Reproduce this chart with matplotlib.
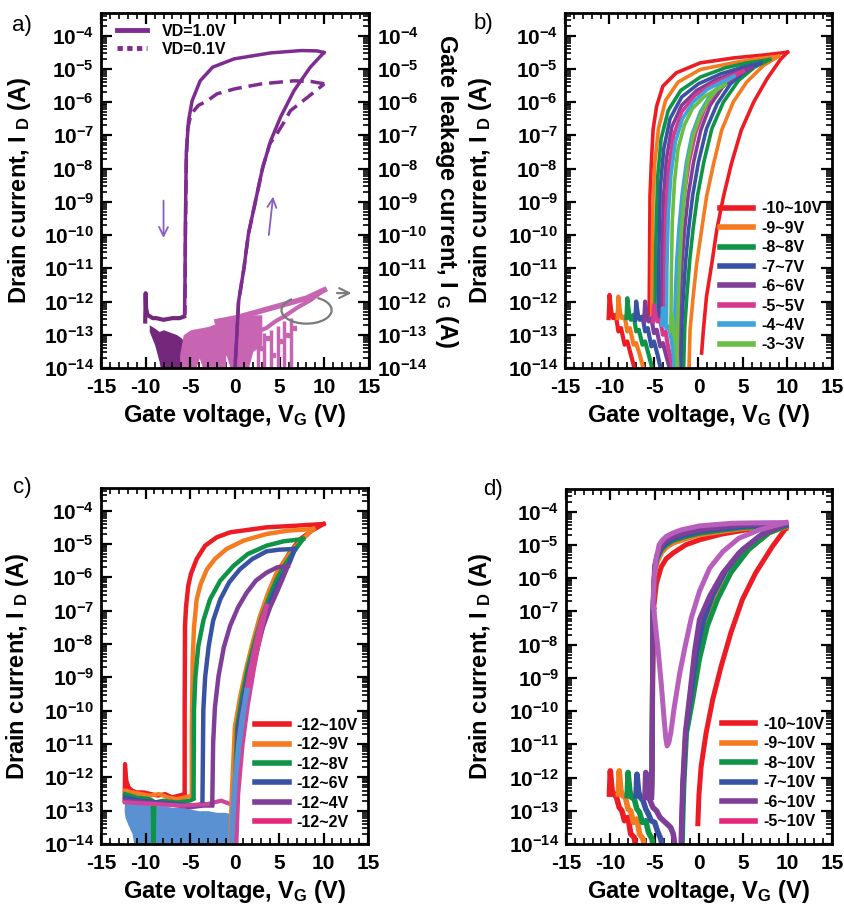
import numpy as np
import matplotlib
matplotlib.use("Agg")
import matplotlib.pyplot as plt
from matplotlib.ticker import FixedLocator, FixedFormatter, LogLocator, NullFormatter, MultipleLocator
from matplotlib.lines import Line2D
from matplotlib.patches import Arc

plt.rcParams['font.family'] = ['Liberation Sans', 'DejaVu Sans']
plt.rcParams['font.weight'] = 'bold'
plt.rcParams['axes.labelweight'] = 'bold'
plt.rcParams['mathtext.fontset'] = 'custom'
for k in ('rm', 'it', 'bf', 'sf'):
    plt.rcParams['mathtext.' + k] = 'Liberation Sans:bold'

# ---- axis ticks ----
X_TICKS = [-15, -10, -5, 0, 5, 10, 15]
X_TICKLABELS = ['-15', '-10', '-5', '0', '5', '10', '15']
Y_EXP = [-14, -13, -12, -11, -10, -9, -8, -7, -6, -5, -4]

# ---- panel a : log10(I) vs V ----
A_SOLID_FWD_V = [0.0, 0.05, 0.4, 1.0, 1.5, 2.3, 3.1, 4.0, 5.1, 6.6, 8.4, 9.95]
A_SOLID_FWD_L = [-14.3, -13.8, -12.0, -11.0, -9.97, -8.97, -7.97, -7.16, -6.45, -5.66, -4.96, -4.51]
A_SOLID_REV_V = [9.95, 9.2, 7.4, 4.0, -0.1, -2.5, -3.9, -4.8, -5.2, -5.45, -5.55, -5.6, -5.65]
A_SOLID_REV_L = [-4.51, -4.46, -4.45, -4.52, -4.7, -4.95, -5.36, -5.96, -6.56, -7.5, -9.5, -11.5, -12.4]
A_DASH_FWD_V = [0.0, 0.05, 0.4, 1.0, 1.5, 2.3, 3.1, 3.9, 4.7, 5.5, 6.2, 7.2, 8.1, 10.0]
A_DASH_FWD_L = [-14.3, -13.8, -12.0, -11.0, -9.97, -8.97, -7.97, -7.25, -6.95, -6.6, -6.26, -6.05, -5.86, -5.45]
A_DASH_REV_V = [10.0, 8.5, 6.6, 3.0, 0.0, -2.0, -3.1, -4.1, -4.6, -5.0, -5.3, -5.45, -5.55, -5.6]
A_DASH_REV_L = [-5.45, -5.38, -5.36, -5.45, -5.6, -5.75, -5.96, -6.1, -6.26, -6.45, -6.8, -7.8, -10.0, -12.4]
A_FLOOR_V = [-10.05, -10.0, -9.95, -9.8, -9.5, -9.2, -8.8, -8.0, -7.0, -6.2, -5.7]
A_FLOOR_L = [-12.6, -11.75, -12.2, -12.4, -12.45, -12.5, -12.5, -12.55, -12.5, -12.5, -12.45]
A_DNOISE_V = [-9.6, -9.0, -8.5, -8.0, -7.5, -7.0, -6.5, -6.0, -5.7]
A_DNOISE_HI = [-12.7, -12.8, -12.9, -12.85, -12.9, -12.95, -13.0, -13.1, -13.2]
A_DNOISE_LO = [-12.9, -13.3, -13.8, -14.5, -14.5, -14.5, -14.2, -13.9, -13.6]
A_GATE_V = [-6.2, -5.8, -5.0, -4.0, -3.0, -2.0, -1.0, 0.0, 1.0, 2.0, 3.0]
A_GATE_HI = [-13.6, -13.0, -12.85, -12.8, -12.75, -12.65, -12.55, -12.5, -12.45, -12.4, -12.4]
A_GATE_LO = [-14.5, -14.5, -14.5, -13.7, -14.5, -14.5, -13.6, -14.5, -14.5, -13.5, -13.3]
A_GATE_UP_V = [-2.0, 0.0, 2.0, 4.0, 6.0, 8.0, 10.0]
A_GATE_UP_L = [-12.6, -12.5, -12.35, -12.2, -12.05, -11.9, -11.65]
A_GATE_DN_V = [10.0, 8.5, 7.0, 5.5, 4.5, 3.5, 2.5]
A_GATE_DN_L = [-11.65, -11.95, -12.18, -12.45, -12.6, -12.8, -12.9]
A_GATE_SPIKE_V = [-3.5, -1.2, 2.6, 3.3, 4.0, 4.8, 5.5, 6.3]
A_GATE_SPIKE_TOP = [-13.0, -12.9, -12.9, -12.95, -12.85, -12.75, -12.6, -12.5]
A_GATE_DOT_V = [3.0, 3.6, 4.3, 5.0, 5.8, 6.6]
A_GATE_DOT_L = [-13.4, -13.1, -13.6, -13.2, -13.0, -12.8]
A_LABELS = ['VD=1.0V', 'VD=0.1V']

# ---- panel b ----
B_LABELS = ['-10~10V', '-9~9V', '-8~8V', '-7~7V', '-6~6V', '-5~5V', '-4~4V', '-3~3V']
B_FWD_V = [
    [0.35, 0.55, 0.9, 1.5, 2.05, 2.8, 3.7, 4.8, 6.2, 7.7, 9.2, 10.0],
    [-1.1, -0.95, -0.6, -0.2, 0.35, 0.9, 1.7, 2.6, 3.9, 5.4, 7.3, 9.0],
    [-1.7, -1.55, -1.3, -1.0, -0.6, -0.1, 0.6, 1.5, 2.8, 4.5, 6.3, 8.0],
    [-2.0, -1.9, -1.7, -1.45, -1.1, -0.65, 0.0, 0.9, 2.1, 3.6, 5.3, 7.0],
    [-2.3, -2.2, -2.05, -1.85, -1.55, -1.15, -0.55, 0.25, 1.3, 2.7, 4.3, 6.0],
    [-2.6, -2.5, -2.4, -2.2, -1.95, -1.6, -1.05, -0.3, 0.7, 2.0, 3.5, 5.0],
    [-2.8, -2.7, -2.6, -2.45, -2.2, -1.85, -1.35, -0.7, 0.2, 1.3, 2.6, 4.0],
    [-2.45, -2.35, -2.25, -2.1, -1.9, -1.6, -1.2, -0.6, 0.2, 1.1, 2.0, 3.0],
]
B_FWD_L = [
    [-13.55, -12.85, -11.85, -10.85, -9.85, -8.85, -7.85, -6.85, -6.0, -5.3, -4.72, -4.5],
    [-14.3, -12.85, -11.85, -10.85, -9.85, -8.85, -7.85, -6.85, -6.0, -5.4, -4.9, -4.62],
    [-14.3, -12.8, -11.8, -10.8, -9.8, -8.8, -7.8, -6.8, -6.0, -5.35, -4.95, -4.72],
    [-14.3, -12.8, -11.8, -10.8, -9.8, -8.8, -7.8, -6.8, -6.05, -5.45, -5.05, -4.82],
    [-14.3, -12.8, -11.8, -10.8, -9.8, -8.8, -7.8, -6.85, -6.1, -5.55, -5.2, -4.97],
    [-14.3, -12.8, -11.8, -10.8, -9.8, -8.8, -7.8, -6.9, -6.2, -5.65, -5.3, -5.07],
    [-14.3, -12.8, -11.8, -10.8, -9.8, -8.8, -7.8, -6.95, -6.3, -5.8, -5.45, -5.22],
    [-14.3, -12.8, -11.8, -10.8, -9.8, -8.8, -7.8, -7.0, -6.4, -5.95, -5.65, -5.47],
]
B_REV_V = [
    [10.0, 7.5, 4.0, 0.2, -2.5, -4.0, -4.7, -5.1, -5.3, -5.45, -5.5, -5.55],
    [9.0, 6.5, 3.9, 0.2, -2.3, -3.7, -4.5, -4.9, -5.1, -5.2, -5.25],
    [8.0, 5.5, 3.0, 0.2, -2.0, -3.4, -4.2, -4.6, -4.8, -4.9],
    [7.0, 5.0, 2.5, 0.0, -1.9, -3.2, -3.9, -4.3, -4.45, -4.5],
    [6.0, 4.2, 2.0, -0.2, -1.9, -3.0, -3.6, -3.95, -4.1, -4.15],
    [5.0, 3.5, 1.6, -0.4, -1.9, -2.8, -3.35, -3.65, -3.8, -3.85],
    [4.0, 2.7, 1.0, -0.6, -1.8, -2.6, -3.1, -3.4, -3.55, -3.6],
    [3.0, 2.0, 0.6, -0.7, -1.6, -2.3, -2.7, -2.95, -3.05, -3.1],
]
B_REV_L = [
    [-4.5, -4.58, -4.67, -4.82, -5.12, -5.52, -6.12, -6.82, -7.83, -8.83, -10.8, -12.4],
    [-4.62, -4.7, -4.82, -5.02, -5.4, -5.95, -6.8, -7.8, -8.8, -10.8, -12.4],
    [-4.72, -4.82, -4.97, -5.25, -5.65, -6.25, -7.1, -8.3, -10.3, -12.4],
    [-4.82, -4.95, -5.15, -5.45, -5.85, -6.5, -7.4, -8.6, -10.5, -12.5],
    [-4.97, -5.1, -5.32, -5.65, -6.1, -6.75, -7.7, -8.9, -10.7, -12.6],
    [-5.07, -5.22, -5.45, -5.8, -6.3, -7.0, -8.0, -9.2, -10.9, -12.7],
    [-5.22, -5.38, -5.62, -6.0, -6.5, -7.2, -8.2, -9.4, -11.0, -12.8],
    [-5.47, -5.62, -5.85, -6.2, -6.7, -7.4, -8.4, -9.6, -11.2, -12.9],
]
B_NOISE_V = [
    [-10.1, -10.0, -9.8, -9.6, -9.3, -9.0, -8.7, -8.3, -8.0, -7.6, -7.3, -7.0],
    [-9.1, -9.0, -8.8, -8.6, -8.3, -8.0, -7.7, -7.3, -7.0, -6.6, -6.3, -6.0],
    [-8.1, -8.0, -7.8, -7.6, -7.3, -7.0, -6.7, -6.3, -6.0, -5.6, -5.3, -5.0],
    [-7.1, -7.0, -6.8, -6.6, -6.3, -6.0, -5.7, -5.3, -5.0, -4.6, -4.3, -4.0],
    [-6.1, -6.0, -5.8, -5.6, -5.3, -5.0, -4.7, -4.3, -4.0, -3.6, -3.3, -3.0],
    [-5.1, -5.0, -4.8, -4.6, -4.3, -4.0, -3.7, -3.4, -3.1, -2.8],
    [-4.1, -4.0, -3.8, -3.6, -3.3, -3.0, -2.8, -2.6],
    [-3.1, -3.0, -2.85, -2.7, -2.5, -2.3],
]
B_NOISE_L = [
    [-12.5, -11.8, -12.3, -12.5, -12.4, -12.9, -12.8, -13.3, -13.2, -13.6, -13.9, -14.3],
    [-12.5, -11.85, -12.35, -12.5, -12.45, -12.9, -12.8, -13.3, -13.25, -13.6, -13.9, -14.3],
    [-12.5, -11.9, -12.35, -12.55, -12.4, -12.9, -12.85, -13.3, -13.2, -13.6, -13.9, -14.3],
    [-12.55, -12.0, -12.4, -12.55, -12.45, -12.9, -12.8, -13.35, -13.2, -13.6, -13.95, -14.3],
    [-12.6, -12.0, -12.45, -12.6, -12.5, -12.95, -12.85, -13.35, -13.25, -13.65, -13.95, -14.3],
    [-12.6, -12.1, -12.45, -12.6, -12.55, -13.0, -12.9, -13.4, -13.7, -14.3],
    [-12.7, -12.2, -12.6, -12.8, -12.75, -13.2, -13.6, -14.3],
    [-12.8, -12.4, -12.7, -13.0, -13.3, -14.3],
]

# ---- panel c ----
C_LABELS = ['-12~10V', '-12~9V', '-12~8V', '-12~6V', '-12~4V', '-12~2V']
C_FWD_V = [
    [-0.15, 0.1, 0.6, 1.3, 2.1, 2.9, 3.6, 4.3, 5.1, 6.2, 7.4, 8.7, 10.0],
    [-0.5, -0.3, 0.05, 0.7, 1.37, 2.1, 2.87, 3.8, 4.74, 5.6, 6.6, 7.7, 8.85],
    [-0.15, 0.0, 0.3, 0.9, 1.55, 2.3, 3.1, 3.9, 4.74, 5.6, 6.6, 7.7],
    [-0.15, 0.05, 0.43, 1.1, 1.74, 2.5, 3.24, 4.0, 4.74, 5.5, 6.2, 6.8],
    [0.0, 0.2, 0.5, 1.1, 1.74, 2.5, 3.24, 4.0, 4.74, 5.4, 6.0],
    [0.15, 0.4, 0.9, 1.5, 2.2, 2.9, 3.6],
]
C_FWD_L = [
    [-14.3, -12.2, -10.48, -9.5, -8.67, -7.8, -6.96, -6.3, -5.76, -5.25, -4.85, -4.6, -4.4],
    [-14.3, -12.5, -10.48, -9.5, -8.67, -7.9, -7.16, -6.45, -5.86, -5.5, -5.15, -4.85, -4.55],
    [-14.3, -12.6, -10.48, -9.5, -8.67, -7.9, -7.16, -6.6, -6.06, -5.65, -5.25, -4.85],
    [-14.3, -12.6, -10.48, -9.5, -8.67, -7.95, -7.26, -6.75, -6.26, -5.9, -5.55, -5.15],
    [-14.3, -12.6, -10.68, -9.7, -8.87, -8.1, -7.46, -6.9, -6.46, -6.05, -5.66],
    [-14.3, -12.5, -11.0, -9.8, -8.7, -7.7, -6.86],
]
C_REV_V = [
    [10.0, 7.0, 3.6, -0.5, -2.0, -3.3, -4.25, -4.9, -5.2, -5.45, -5.56, -5.6, -5.6],
    [8.85, 6.0, 3.6, 1.0, -0.9, -2.2, -3.1, -3.8, -4.25, -4.55, -4.7, -4.8, -4.8],
    [7.7, 5.5, 3.6, 1.5, -0.13, -1.6, -2.75, -3.5, -4.07, -4.4, -4.55, -4.6],
    [6.8, 5.0, 3.6, 2.0, 0.6, -0.6, -1.6, -2.4, -2.9, -3.3, -3.5, -3.6],
    [6.0, 4.8, 3.6, 2.4, 1.37, 0.4, -0.5, -1.2, -1.8, -2.2, -2.4, -2.5],
    [3.6, 2.9, 2.2, 1.6, 1.0, 0.5, 0.2, 0.1],
]
C_REV_L = [
    [-4.4, -4.45, -4.5, -4.65, -4.8, -5.05, -5.45, -5.9, -6.26, -6.9, -7.46, -10.0, -12.43],
    [-4.55, -4.6, -4.7, -4.9, -5.15, -5.45, -5.76, -6.2, -6.66, -7.5, -8.47, -10.5, -12.5],
    [-4.85, -4.92, -5.05, -5.3, -5.66, -6.1, -6.66, -7.3, -8.07, -9.0, -9.97, -12.6],
    [-5.15, -5.17, -5.22, -5.45, -5.76, -6.15, -6.66, -7.3, -8.07, -9.0, -9.97, -12.7],
    [-5.66, -5.7, -5.86, -6.1, -6.46, -6.9, -7.46, -8.1, -8.97, -9.9, -10.97, -12.8],
    [-6.86, -7.4, -8.2, -9.0, -10.0, -11.0, -12.0, -12.9],
]
C_FLOOR_V = [
    [-12.35, -12.3, -12.15, -11.9, -11.5, -11.0, -10.2, -9.4, -8.6, -7.8, -7.0, -6.3, -5.6],
    [-12.3, -11.5, -10.5, -9.5, -8.5, -7.5, -6.5, -5.5, -4.8],
    [-12.3, -11.0, -9.6, -9.2, -9.1, -9.0, -8.0, -6.5, -5.0, -4.6],
    [-12.3, -10.5, -8.5, -6.5, -4.5, -3.6],
    [-12.3, -10.0, -7.5, -5.0, -3.5, -2.5],
    [-12.3, -9.0, -6.0, -3.0, -1.5, -0.5],
]
C_FLOOR_L = [
    [-12.7, -11.6, -12.1, -12.3, -12.4, -12.45, -12.45, -12.5, -12.55, -12.5, -12.6, -12.55, -12.5],
    [-12.4, -12.45, -12.5, -12.55, -12.5, -12.6, -12.65, -12.6, -12.55],
    [-12.5, -12.6, -12.65, -12.7, -14.3, -12.75, -12.7, -12.75, -12.7, -12.65],
    [-12.6, -12.7, -12.75, -12.8, -12.85, -12.8],
    [-12.7, -12.75, -12.8, -12.9, -12.85, -12.85],
    [-12.75, -12.8, -12.85, -12.8, -12.7, -12.8],
]
C_BAND_V = [-12.4, -12.3, -12.0, -11.5, -11.0, -10.0, -9.0, -8.0, -7.0, -6.0, -5.0, -4.0, -3.0, -2.0, -1.0, -0.3, 0.0]
C_BAND_HI = [-13.0, -12.4, -12.6, -12.7, -12.75, -12.8, -12.85, -12.85, -12.9, -12.9, -12.95, -13.0, -13.0, -13.05, -13.05, -13.1, -13.6]
C_BAND_LO = [-13.0, -13.2, -13.4, -13.7, -14.5, -14.5, -14.5, -14.5, -14.5, -14.5, -14.5, -14.5, -14.5, -14.5, -14.5, -14.5, -14.5]
C_LB_V = [-0.4, -0.2, 0.1, 0.5, 0.9, 1.4]
C_LB_L = [-14.3, -13.2, -12.0, -11.0, -10.2, -9.4]

# ---- panel d ----
D_LABELS = ['-10~10V', '-9~10V', '-8~10V', '-7~10V', '-6~10V', '-5~10V']
D_FWD_V = [
    [-0.13, 0.0, 0.24, 0.8, 1.55, 2.5, 3.6, 4.9, 6.4, 8.3, 9.8],
    [-2.0, -1.95, -1.8, -1.5, -1.06, -0.5, 0.24, 1.2, 2.3, 3.8, 5.6, 7.9, 9.8],
    [-1.9, -1.85, -1.7, -1.4, -0.7, 0.05, 0.95, 2.1, 3.6, 5.6, 7.9, 9.8],
    [-2.0, -1.95, -1.8, -1.5, -0.9, -0.3, 0.5, 1.6, 3.0, 4.9, 7.3, 9.8],
    [-2.05, -2.0, -1.85, -1.55, -1.0, -0.5, 0.05, 1.2, 2.7, 4.5, 6.8, 9.8],
    [-5.1, -5.0, -4.6, -4.25, -3.95, -3.75, -3.6, -3.4, -3.15, -2.8, -2.2, -1.6, -0.87, 0.05, 1.2, 2.7, 4.5, 6.8, 9.8],
]
D_FWD_L = [
    [-13.39, -12.5, -11.67, -10.66, -9.65, -8.65, -7.64, -6.64, -5.84, -5.04, -4.5],
    [-14.3, -13.6, -12.2, -10.66, -9.65, -8.65, -7.84, -7.14, -6.44, -5.74, -5.14, -4.64, -4.45],
    [-14.3, -13.6, -12.2, -10.66, -9.65, -8.45, -7.44, -6.64, -5.84, -5.14, -4.64, -4.43],
    [-14.3, -13.6, -12.2, -10.66, -9.5, -8.3, -7.3, -6.5, -5.8, -5.14, -4.64, -4.4],
    [-14.3, -13.6, -12.2, -10.66, -9.4, -8.2, -7.24, -6.54, -5.84, -5.24, -4.74, -4.36],
    [-6.9, -7.2, -8.2, -9.2, -10.2, -10.8, -11.05, -10.95, -10.6, -9.9, -8.9, -8.1, -7.2, -6.4, -5.7, -5.2, -4.8, -4.55, -4.33],
]
D_REV_V = [
    [9.8, 7.5, 5.3, 2.5, 0.05, -1.5, -2.94, -3.7, -4.25, -4.8, -5.1, -5.2, -5.3, -5.35],
    [9.8, 7.5, 5.3, 2.5, 0.05, -1.5, -2.94, -3.7, -4.25, -4.7, -5.0, -5.2, -5.3, -5.35],
    [9.8, 7.5, 5.3, 2.5, 0.05, -1.5, -2.94, -3.7, -4.25, -4.7, -5.0, -5.2, -5.3, -5.35],
    [9.8, 7.5, 5.3, 2.5, 0.05, -1.5, -2.94, -3.7, -4.25, -4.7, -5.0, -5.2, -5.3, -5.35],
    [9.8, 7.5, 5.3, 2.5, 0.05, -1.5, -2.94, -3.7, -4.25, -4.7, -5.0, -5.2, -5.3, -5.35],
    [9.8, 6.0, 3.8, 0.05, -2.0, -3.0, -3.7, -4.2, -4.5, -4.85, -5.1, -5.2, -5.1],
]
D_REV_L = [
    [-4.5, -4.52, -4.55, -4.68, -4.85, -5.0, -5.25, -5.42, -5.66, -6.16, -6.86, -8.67, -11.68, -12.5],
    [-4.45, -4.47, -4.5, -4.6, -4.7, -4.82, -4.95, -5.08, -5.25, -5.5, -5.85, -7.16, -11.68, -12.6],
    [-4.43, -4.45, -4.47, -4.56, -4.65, -4.75, -4.87, -5.0, -5.15, -5.4, -5.75, -7.0, -11.68, -12.6],
    [-4.4, -4.42, -4.44, -4.52, -4.6, -4.7, -4.82, -4.95, -5.1, -5.35, -5.7, -7.0, -11.7, -12.6],
    [-4.36, -4.38, -4.4, -4.47, -4.55, -4.64, -4.75, -4.88, -5.02, -5.27, -5.62, -7.0, -11.7, -12.6],
    [-4.33, -4.34, -4.35, -4.43, -4.55, -4.65, -4.75, -4.88, -5.0, -5.45, -6.16, -6.86, -6.9],
]
D_NOISE_V = [
    [-10.1, -10.0, -9.8, -9.6, -9.3, -9.0, -8.7, -8.4, -8.0, -7.7, -7.3, -7.0],
    [-9.1, -9.0, -8.8, -8.6, -8.3, -8.0, -7.7, -7.4, -7.0, -6.7, -6.3, -6.0],
    [-8.1, -8.0, -7.8, -7.6, -7.3, -7.0, -6.7, -6.4, -6.0, -5.7, -5.3, -5.0],
    [-7.1, -7.0, -6.8, -6.6, -6.3, -6.0, -5.7, -5.4, -5.0, -4.7, -4.3, -4.0],
    [-6.1, -6.0, -5.8, -5.5, -5.2, -4.8, -4.4, -4.0, -3.6, -3.2, -2.9, -2.6],
]
D_NOISE_L = [
    [-12.5, -11.8, -12.4, -12.5, -12.6, -12.9, -13.0, -13.3, -13.2, -13.7, -13.8, -14.3],
    [-12.5, -11.8, -12.4, -12.55, -12.6, -12.95, -13.0, -13.35, -13.25, -13.7, -13.85, -14.3],
    [-12.55, -11.85, -12.4, -12.6, -12.65, -12.95, -13.05, -13.35, -13.3, -13.65, -13.85, -14.3],
    [-12.55, -11.9, -12.45, -12.6, -12.7, -12.95, -13.1, -13.3, -13.35, -13.6, -13.85, -14.3],
    [-12.6, -11.85, -12.4, -12.7, -12.9, -13.0, -13.2, -13.3, -13.4, -13.5, -13.7, -14.3],
]

# ---- colours ----
A_COLOR = '#7e2c8f'
A_DARK = '#74287c'
A_PINK = '#c865b2'
ARROW_COLOR = '#8b5cc2'
GRAY = '#7a7a7a'
B_COLORS = ['#ed1c24', '#f47b20', '#0f9447', '#3953a4', '#7f3f98', '#d6398f', '#3da5dc', '#6abd45']
C_COLORS = ['#ed1c24', '#f47b20', '#0f9447', '#3953a4', '#7f3f98', '#d0449a']
C_LIGHTBLUE = '#5a91d2'
D_COLORS = ['#ed1c24', '#f47b20', '#0f9447', '#3953a4', '#7f3f98', '#b85fbc']
D_LEG_COLORS = ['#ed1c24', '#f47b20', '#0f9447', '#3953a4', '#7f3f98', '#e5267d']


def dec(vals):
    return 10.0 ** np.asarray(vals, dtype=float)


def style(ax):
    ax.set_xlim(-15, 15)
    ax.set_yscale('log')
    ax.set_ylim(1e-14, 10 ** -3.32)
    ax.xaxis.set_major_locator(FixedLocator(X_TICKS))
    ax.xaxis.set_major_formatter(FixedFormatter(X_TICKLABELS))
    ax.xaxis.set_minor_locator(MultipleLocator(1))
    ax.yaxis.set_major_locator(FixedLocator(dec(Y_EXP)))
    ax.yaxis.set_major_formatter(FixedFormatter(['$10^{%d}$' % e for e in Y_EXP]))
    ax.yaxis.set_minor_locator(LogLocator(base=10, subs=np.arange(2, 10), numticks=40))
    ax.yaxis.set_minor_formatter(NullFormatter())
    ax.tick_params(which='both', direction='in', top=True, right=True, labelsize=15)
    ax.tick_params(which='major', length=8, width=1.6)
    ax.tick_params(which='minor', length=4, width=1.2)
    ax.tick_params(axis='x', pad=7)
    ax.tick_params(axis='y', pad=5)
    for s in ax.spines.values():
        s.set_linewidth(2)
    ax.set_ylabel(r'Drain current, I $_{\rm D}$ (A)', fontsize=17)
    ax.set_xlabel(r'Gate voltage, V$_{\rm G}$ (V)', fontsize=17)
    ax.xaxis.set_label_coords(0.5, -0.095)


def legend(ax, colors, labels, x, y):
    handles = [Line2D([], [], color=c, lw=4) for c in colors]
    ax.legend(handles, labels, loc='upper left', bbox_to_anchor=(x, y), frameon=False,
              fontsize=11.5, borderpad=0, borderaxespad=0, handlelength=2.1,
              handletextpad=0.5, labelspacing=0.28)


fig = plt.figure(figsize=(8.45, 9.07), dpi=100)
ax_a = fig.add_axes([101 / 845, 1 - 368 / 907, 268 / 845, 355 / 907])
ax_b = fig.add_axes([565 / 845, 1 - 368 / 907, 267 / 845, 355 / 907])
ax_c = fig.add_axes([101 / 845, 1 - 844 / 907, 267 / 845, 356 / 907])
ax_d = fig.add_axes([566 / 845, 1 - 844 / 907, 266 / 845, 355 / 907])

# ---- a ----
ax_a.fill_between(A_DNOISE_V, dec(A_DNOISE_LO), dec(A_DNOISE_HI), color=A_DARK, lw=0)
ax_a.plot(A_FLOOR_V, dec(A_FLOOR_L), color=A_DARK, lw=3)
ax_a.fill_between(A_GATE_V, dec(A_GATE_LO), dec(A_GATE_HI), color=A_PINK, lw=0)
ax_a.vlines(A_GATE_SPIKE_V, 10 ** -14.5, dec(A_GATE_SPIKE_TOP), color=A_PINK, lw=2.5)
ax_a.plot(A_GATE_DOT_V, dec(A_GATE_DOT_L), 's', color=A_PINK, ms=3.5)
ax_a.plot(A_GATE_UP_V, dec(A_GATE_UP_L), color=A_PINK, lw=4)
ax_a.plot(A_GATE_DN_V, dec(A_GATE_DN_L), color=A_PINK, lw=3)
ax_a.plot(A_SOLID_FWD_V, dec(A_SOLID_FWD_L), color=A_COLOR, lw=2.5)
ax_a.plot(A_SOLID_REV_V, dec(A_SOLID_REV_L), color=A_COLOR, lw=2.5)
ax_a.plot(A_DASH_FWD_V, dec(A_DASH_FWD_L), color=A_COLOR, lw=2.5, ls=(0, (4, 2)))
ax_a.plot(A_DASH_REV_V, dec(A_DASH_REV_L), color=A_COLOR, lw=2.5, ls=(0, (4, 2)))
style(ax_a)
ax_a.yaxis.set_label_coords(-0.254, 0.5)
ax_a.tick_params(which='both', right=False)
ax_a.legend([Line2D([], [], color=A_COLOR, lw=3.5),
             Line2D([], [], color=A_COLOR, lw=3.5, ls=(0, (1.1, 0.9)), dash_capstyle='butt')],
            A_LABELS, loc='upper left', bbox_to_anchor=(0.06, 0.97), frameon=False,
            fontsize=11.5, borderpad=0, borderaxespad=0, handlelength=1.9,
            handletextpad=0.9, labelspacing=0.18)
ax_a.annotate('', xy=(-8.0, 10 ** -10.17), xytext=(-8.0, 10 ** -8.88),
              arrowprops=dict(arrowstyle='->', color=ARROW_COLOR, lw=1.3, mutation_scale=16))
ax_a.annotate('', xy=(4.3, 10 ** -8.76), xytext=(3.75, 10 ** -10.08),
              arrowprops=dict(arrowstyle='->', color=ARROW_COLOR, lw=1.3, mutation_scale=16))
ax_a.add_patch(Arc((0.767, 0.163), 0.187, 0.076, theta1=150, theta2=400,
                   transform=ax_a.transAxes, color=GRAY, lw=1.6, zorder=5))
ax_a.annotate('', xy=(0.945, 0.211), xytext=(0.87, 0.211), xycoords='axes fraction',
              arrowprops=dict(arrowstyle='->', color=GRAY, lw=1.5, mutation_scale=18))

ax_r = ax_a.twinx()
ax_r.set_yscale('log')
ax_r.set_ylim(1e-14, 10 ** -3.32)
ax_r.yaxis.set_major_locator(FixedLocator(dec(Y_EXP)))
ax_r.yaxis.set_major_formatter(FixedFormatter(['$10^{%d}$' % e for e in Y_EXP]))
ax_r.yaxis.set_minor_locator(LogLocator(base=10, subs=np.arange(2, 10), numticks=40))
ax_r.yaxis.set_minor_formatter(NullFormatter())
ax_r.tick_params(which='both', direction='in', labelsize=15, pad=6)
ax_r.tick_params(which='major', length=8, width=1.6)
ax_r.tick_params(which='minor', length=4, width=1.2)
ax_r.set_ylabel(r'Gate leakage current, I $_{\rm G}$ (A)', fontsize=17, rotation=270, va='bottom')
ax_r.yaxis.set_label_coords(1.24, 0.5)

# ---- b ----
for i in range(len(B_LABELS)):
    col = B_COLORS[i]
    ax_b.plot(B_NOISE_V[i], dec(B_NOISE_L[i]), color=col, lw=3)
    ax_b.plot(B_FWD_V[i], dec(B_FWD_L[i]), color=col, lw=2.6)
    ax_b.plot(B_REV_V[i], dec(B_REV_L[i]), color=col, lw=2.6)
style(ax_b)
ax_b.yaxis.set_label_coords(-0.266, 0.5)
legend(ax_b, B_COLORS, B_LABELS, 0.58, 0.47)

# ---- c ----
for i in range(len(C_LABELS)):
    ax_c.plot(C_FLOOR_V[i], dec(C_FLOOR_L[i]), color=C_COLORS[i], lw=3)
for i in range(len(C_LABELS)):
    col = C_COLORS[i]
    ax_c.plot(C_FWD_V[i], dec(C_FWD_L[i]), color=col, lw=3.2)
    ax_c.plot(C_REV_V[i], dec(C_REV_L[i]), color=col, lw=3.2)
ax_c.fill_between(C_BAND_V, dec(C_BAND_LO), dec(C_BAND_HI), color=C_LIGHTBLUE, lw=0)
ax_c.plot(C_LB_V, dec(C_LB_L), color=C_LIGHTBLUE, lw=4)
style(ax_c)
ax_c.yaxis.set_label_coords(-0.262, 0.5)
legend(ax_c, C_COLORS[:5] + ['#e5267d'], C_LABELS, 0.577, 0.355)

# ---- d ----
for i in range(len(D_NOISE_V)):
    ax_d.plot(D_NOISE_V[i], dec(D_NOISE_L[i]), color=D_COLORS[i], lw=4)
for i in range(len(D_LABELS)):
    col = D_COLORS[i]
    ax_d.plot(D_FWD_V[i], dec(D_FWD_L[i]), color=col, lw=3.6)
    ax_d.plot(D_REV_V[i], dec(D_REV_L[i]), color=col, lw=3.6)
style(ax_d)
ax_d.yaxis.set_label_coords(-0.271, 0.5)
legend(ax_d, D_LEG_COLORS, D_LABELS, 0.585, 0.358)

for txt, x, y in [('a)', 22, 25), ('b)', 483, 24), ('c)', 22, 487), ('d)', 493, 489)]:
    fig.text(x / 845, 1 - y / 907, txt, fontsize=16, fontweight='normal', ha='center', va='center')

fig.savefig('out.png', dpi=100)
